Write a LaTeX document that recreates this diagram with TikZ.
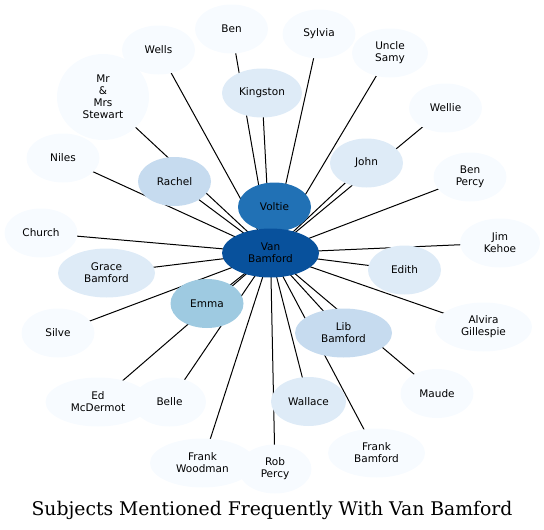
\documentclass[tikz,border=0pt]{standalone}
\usepackage{fontspec}
\setmainfont{DejaVu Sans}
\newfontfamily\titlefont{DejaVu Serif}
\usetikzlibrary{shapes.geometric,backgrounds}
\definecolor{bA}{HTML}{F7FBFF}
\definecolor{bB}{HTML}{DEEBF7}
\definecolor{bC}{HTML}{C6DBEF}
\definecolor{bD}{HTML}{9ECAE1}
\definecolor{bE}{HTML}{2171B5}
\definecolor{bF}{HTML}{08519C}
\tikzset{
  nd/.style={ellipse, draw=none, inner sep=0pt, minimum height=49pt, minimum width=73pt,
    align=center, font=\fontsize{10.5}{12}\selectfont, text=black},
  wd/.style={minimum width=97pt},
  wk/.style={minimum width=80pt},
  ww/.style={minimum width=105pt},
  edge/.style={draw=black, line width=1pt}
}
\begin{document}
\begin{tikzpicture}[x=1pt,y=-1pt]
\useasboundingbox (0,0) rectangle (544,530);
\node[nd, fill=bA] (ben) at (231.5,29) {Ben};
\node[nd, fill=bA] (sylvia) at (319,34) {Sylvia};
\node[nd, fill=bA] (wells) at (158.5,50) {Wells};
\node[nd, fill=bA, minimum width=76pt] (samy) at (390,53) {Uncle\\Samy};
\node[nd, fill=bA, minimum width=92pt, minimum height=86pt] (stewart) at (103,97) {Mr\\\&\\Mrs\\Stewart};
\node[nd, fill=bB, wk] (kingston) at (262,93) {Kingston};
\node[nd, fill=bA] (wellie) at (445.5,108) {Wellie};
\node[nd, fill=bA] (niles) at (63,158) {Niles};
\node[nd, fill=bC] (rachel) at (174.5,181.5) {Rachel};
\node[nd, fill=bB] (john) at (366.5,163) {John};
\node[nd, fill=bA] (benpercy) at (470,177) {Ben\\Percy};
\node[nd, fill=bE] (voltie) at (274.5,207) {Voltie};
\node[nd, fill=bA] (church) at (41,233) {Church};
\node[nd, fill=bF, wd] (vb) at (270.5,253) {Van\\Bamford};
\node[nd, fill=bA, wk] (jim) at (500,243) {Jim\\Kehoe};
\node[nd, fill=bB, wd] (grace) at (106.5,273) {Grace\\Bamford};
\node[nd, fill=bB] (edith) at (404.5,270) {Edith};
\node[nd, fill=bD] (emma) at (207,303.5) {Emma};
\node[nd, fill=bA] (silve) at (58,333) {Silve};
\node[nd, fill=bA, wd] (alvira) at (483.5,327) {Alvira\\Gillespie};
\node[nd, fill=bC, wd] (lib) at (343.5,333) {Lib\\Bamford};
\node[nd, fill=bA] (maude) at (437,393.5) {Maude};
\node[nd, fill=bA, ww] (ed) at (98,402) {Ed\\McDermot};
\node[nd, fill=bA] (belle) at (169.5,402) {Belle};
\node[nd, fill=bB, minimum width=75pt] (wallace) at (308.5,401.5) {Wallace};
\node[nd, fill=bA, wd] (frankb) at (376.5,453) {Frank\\Bamford};
\node[nd, fill=bA, ww] (frankw) at (202.5,463) {Frank\\Woodman};
\node[nd, fill=bA] (rob) at (275,469) {Rob\\Percy};
\begin{pgfonlayer}{background}
\foreach \n in {ben,sylvia,wells,samy,stewart,kingston,wellie,niles,rachel,john,benpercy,voltie,church,jim,grace,edith,emma,silve,alvira,lib,maude,ed,belle,wallace,frankb,frankw,rob}
  \draw[edge] (vb.center) -- (\n.center);
\end{pgfonlayer}
\node[font=\titlefont\fontsize{18.8}{20}\selectfont, inner sep=0pt, anchor=base] (title) at (272,515) {Subjects Mentioned Frequently With Van Bamford};
\end{tikzpicture}
\end{document}
